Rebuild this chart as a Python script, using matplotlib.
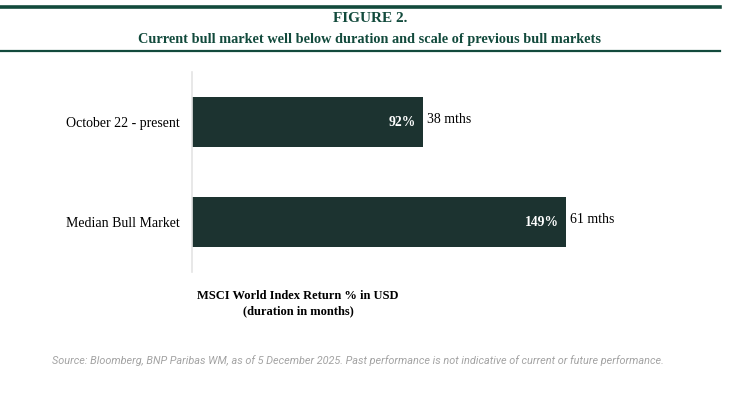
import matplotlib
matplotlib.use("Agg")
import matplotlib.pyplot as plt
from matplotlib.lines import Line2D

categories = ["Median Bull Market", "October 22 - present"]
returns_pct = [149, 92]
duration_months = [61, 38]

title_color = "#124a3c"
bar_color = "#1c3330"
SERIF = "Liberation Serif"

fig = plt.figure(figsize=(7.4, 3.95), dpi=100)
W, H = 740, 395

def fx(px):
    return px / W

def fy(py):
    return 1 - py / H

# header lines
fig.add_artist(Line2D([0, fx(720)], [fy(7), fy(7)], color=title_color, lw=2.6))
fig.add_artist(Line2D([0, fx(720)], [fy(51), fy(51)], color=title_color, lw=1.6))
fig.text(0.5, fy(18.5), "FIGURE 2.", ha="center", va="center", fontsize=11,
         fontweight="bold", color=title_color, family=SERIF)
fig.text(0.5, fy(39), "Current bull market well below duration and scale of previous bull markets",
         ha="center", va="center", fontsize=10.3, fontweight="bold", color=title_color,
         family=SERIF)

ax = fig.add_axes([fx(192), fy(272), fx(640 - 192), 200 / H])
ypos = list(range(len(categories)))
ax.barh(ypos, returns_pct, height=0.5, color=bar_color)
ax.set_ylim(-0.5, 1.5)
ax.set_xlim(0, (640 - 192) / 2.51)
ax.set_yticks(ypos)
ax.set_yticklabels(categories, family=SERIF, fontsize=10)
ax.tick_params(axis="y", length=0, pad=9)
ax.set_xticks([])
for s in ["top", "right", "bottom"]:
    ax.spines[s].set_visible(False)
ax.spines["left"].set_color("#e4e4e4")
ax.spines["left"].set_linewidth(1.2)

for y, r, d in zip(ypos, returns_pct, duration_months):
    ax.annotate(f"{r}%", (r, y), xytext=(-5, 0), textcoords="offset points",
                ha="right", va="center", color="white", fontweight="bold",
                family=SERIF, fontsize=9.8)
    ax.annotate(f"{d} mths", (r, y), xytext=(3, 2), textcoords="offset points",
                ha="left", va="center", color="black",
                family=SERIF, fontsize=10)

fig.text(fx(298), fy(296), "MSCI World Index Return % in USD", ha="center", va="center",
         fontsize=9, fontweight="bold", family=SERIF)
fig.text(fx(298), fy(311), "(duration in months)", ha="center", va="center",
         fontsize=9, fontweight="bold", family=SERIF)

fig.text(fx(52), fy(361), "Source: Bloomberg, BNP Paribas WM, as of 5 December 2025. Past performance is not indicative of current or future performance.",
         ha="left", va="center", fontsize=7.8, style="italic", color="#a3a3a3",
         family="Roboto")

fig.savefig("out.png", dpi=100, facecolor="white")
